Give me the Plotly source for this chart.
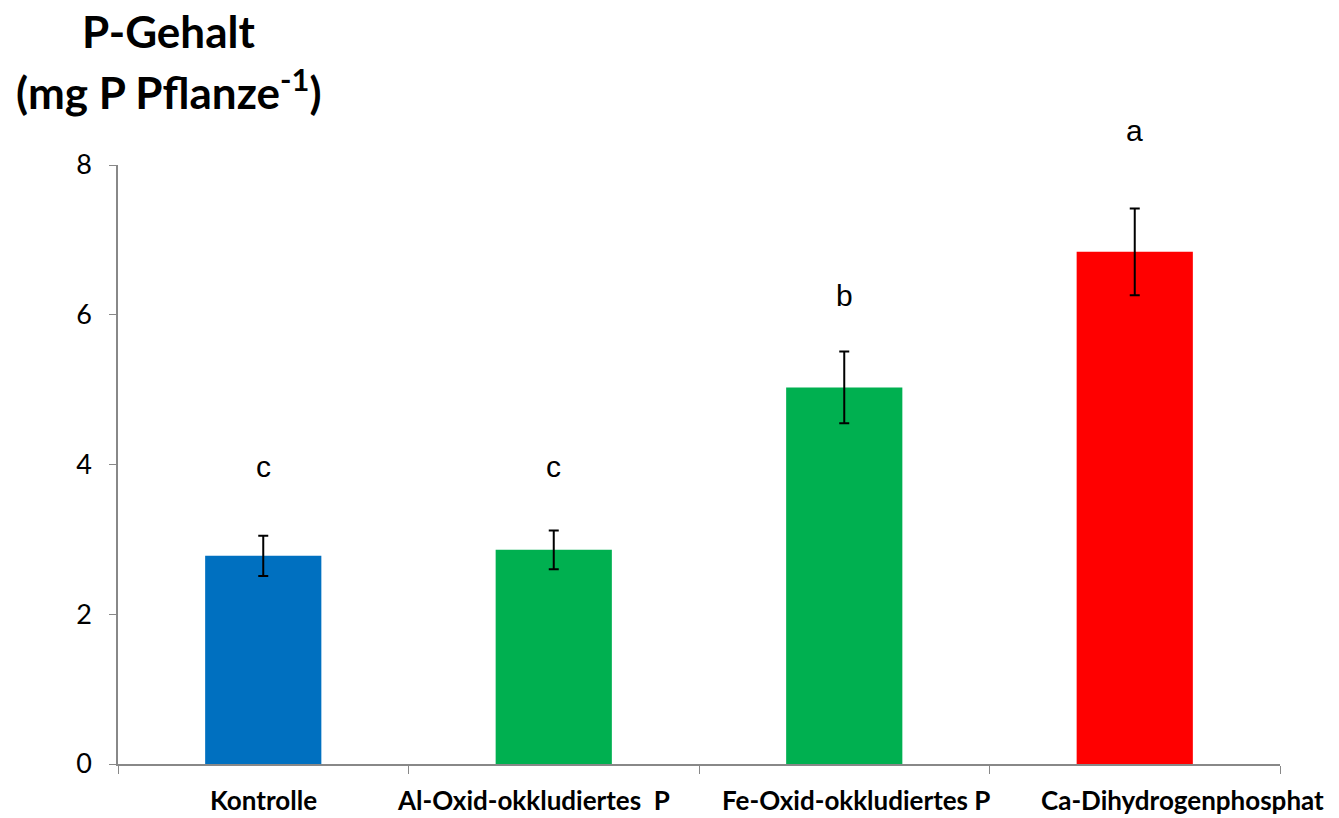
import plotly.graph_objects as go

categories = ["Kontrolle", "Al-Oxid-okkludiertes  P", "Fe-Oxid-okkludiertes P", "Ca-Dihydrogenphosphat"]
values = [2.78, 2.86, 5.03, 6.84]
errors = [0.27, 0.26, 0.48, 0.58]
colors = ["#0070C0", "#00B050", "#00B050", "#FF0000"]
letters = ["c", "c", "b", "a"]
letter_y = [3.97, 3.97, 6.26, 8.46]
y_max = 8

# horizontal shift (px) of category labels relative to bar centre, as in the original layout
label_shift = [0, -20, 12, 48]

# page body adds ~8px offset
OFF = 8
W, H = 1339 - OFF, 818 - OFF
L, T = 118 - OFF, 165 - OFF
R = W - (1280 - OFF)
B = H - (764 - OFF)

fig = go.Figure()
fig.add_trace(go.Bar(
    x=categories, y=values, marker=dict(color=colors, line=dict(width=0)),
    width=0.40,
    error_y=dict(type="data", array=errors, visible=True, color="black", thickness=2, width=5),
    showlegend=False,
))

for c, t, ly in zip(categories, letters, letter_y):
    fig.add_annotation(x=c, y=ly / y_max, xref="x", yref="paper", text=t, showarrow=False,
                       yanchor="middle", xanchor="center",
                       font=dict(family="Liberation Sans, Arial", size=30, color="black"))

def px_x(p):
    return (p - OFF - L) / (W - L - R)

def px_y(p):
    return 1 - (p - OFF - T) / (H - T - B)

for c, s in zip(categories, label_shift):
    fig.add_annotation(x=c, y=px_y(800), xref="x", yref="paper", text=f"<b>{c}</b>",
                       showarrow=False, xanchor="center", yanchor="middle", xshift=s,
                       font=dict(family="Lato, Open Sans", size=26, color="black"))

fig.add_annotation(xref="paper", yref="paper", x=px_x(168), y=px_y(31), text="<b>P-Gehalt</b>",
                   showarrow=False, xanchor="center", yanchor="middle",
                   font=dict(family="Lato, Open Sans", size=44, color="black"))
fig.add_annotation(xref="paper", yref="paper", x=px_x(168), y=px_y(89),
                   text="<b>(mg P Pflanze<sup>-1</sup>)</b>",
                   showarrow=False, xanchor="center", yanchor="middle",
                   font=dict(family="Lato, Open Sans", size=44, color="black"))

fig.update_layout(
    width=W, height=H,
    margin=dict(l=L, r=R, t=T, b=B, autoexpand=False),
    plot_bgcolor="white", paper_bgcolor="white",
    xaxis=dict(
        type="category", showgrid=False, showline=True, linecolor="#888888", linewidth=1.5,
        ticks="outside", tickson="boundaries", ticklen=8, tickcolor="#888888",
        showticklabels=False, automargin=False,
        range=[-0.5, 3.5],
    ),
    yaxis=dict(
        range=[0, y_max], tickvals=[0, 2, 4, 6, 8], showgrid=False, zeroline=False,
        showline=True, linecolor="#888888", linewidth=1.5,
        ticks="outside", ticklen=7, tickcolor="#888888",
        tickfont=dict(family="Lato, Open Sans", size=27, color="black"),
        ticklabelstandoff=12, automargin=False,
    ),
)

fig.write_html("out.html")
